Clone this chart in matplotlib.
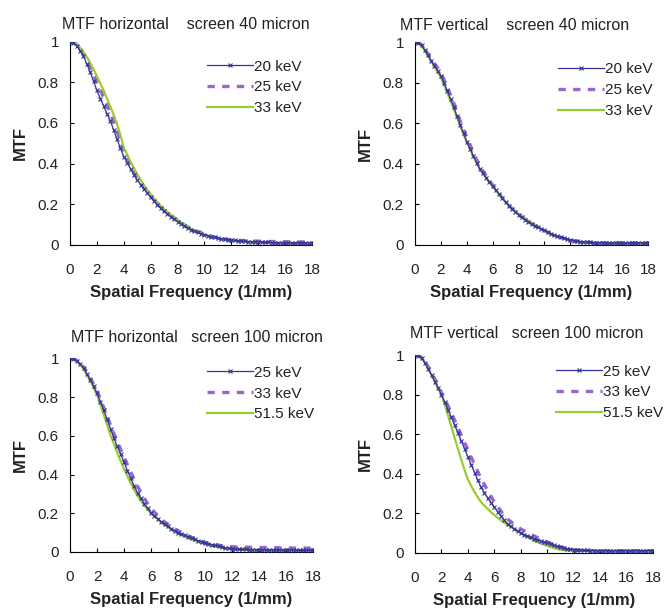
import numpy as np
import matplotlib.pyplot as plt

plt.rcParams['font.family'] = ['Liberation Sans', 'DejaVu Sans']

# spatial frequency grid (1/mm), sampled every 0.25
freq = np.arange(0, 18.001, 0.25)

# MTF horizontal, screen 40 micron
h40_20 = [1.00, 0.995, 0.98, 0.955, 0.93, 0.89, 0.85, 0.805, 0.76, 0.72, 0.685, 0.645,
          0.61, 0.565, 0.52, 0.475, 0.435, 0.405, 0.375, 0.345, 0.32, 0.297, 0.275, 0.255,
          0.235, 0.217, 0.199, 0.182, 0.165, 0.152, 0.139, 0.127, 0.115, 0.105, 0.094, 0.084,
          0.075, 0.068, 0.062, 0.056, 0.05, 0.046, 0.041, 0.037, 0.033, 0.031, 0.028, 0.026,
          0.024, 0.023, 0.021, 0.02, 0.018, 0.017, 0.016, 0.016, 0.015, 0.014, 0.013, 0.013,
          0.012, 0.012, 0.011, 0.011, 0.01, 0.01, 0.01, 0.01, 0.01, 0.01, 0.01, 0.01, 0.01]
h40_25 = [1.00, 0.997, 0.985, 0.965, 0.94, 0.91, 0.875, 0.84, 0.80, 0.765, 0.725, 0.69,
          0.65, 0.605, 0.56, 0.51, 0.465, 0.43, 0.395, 0.362, 0.332, 0.307, 0.283, 0.261,
          0.24, 0.222, 0.204, 0.187, 0.17, 0.157, 0.144, 0.132, 0.12, 0.11, 0.099, 0.089,
          0.08, 0.073, 0.066, 0.06, 0.054, 0.049, 0.044, 0.039, 0.035, 0.032, 0.029, 0.027,
          0.025, 0.024, 0.023, 0.022, 0.021, 0.02, 0.02, 0.019, 0.019, 0.018, 0.018, 0.017,
          0.017, 0.017, 0.016, 0.016, 0.016, 0.016, 0.015, 0.015, 0.015, 0.015, 0.015, 0.015, 0.015]
h40_33 = [1.00, 0.998, 0.99, 0.97, 0.95, 0.925, 0.895, 0.865, 0.83, 0.795, 0.76, 0.72,
          0.68, 0.64, 0.595, 0.54, 0.48, 0.445, 0.41, 0.378, 0.348, 0.32, 0.294, 0.271,
          0.25, 0.23, 0.211, 0.193, 0.176, 0.162, 0.149, 0.137, 0.125, 0.113, 0.101, 0.09,
          0.08, 0.072, 0.064, 0.057, 0.051, 0.046, 0.041, 0.037, 0.033, 0.03, 0.027, 0.025,
          0.022, 0.021, 0.02, 0.018, 0.017, 0.016, 0.015, 0.014, 0.013, 0.013, 0.012, 0.012,
          0.011, 0.011, 0.01, 0.01, 0.009, 0.009, 0.008, 0.008, 0.007, 0.007, 0.006, 0.006, 0.005]

# MTF vertical, screen 40 micron
v40_20 = [1.00, 0.997, 0.985, 0.962, 0.935, 0.91, 0.885, 0.86, 0.835, 0.798, 0.76, 0.72,
          0.68, 0.635, 0.59, 0.55, 0.51, 0.475, 0.44, 0.406, 0.375, 0.353, 0.332, 0.311,
          0.29, 0.27, 0.25, 0.23, 0.21, 0.194, 0.178, 0.163, 0.148, 0.136, 0.125, 0.114,
          0.103, 0.095, 0.087, 0.079, 0.072, 0.064, 0.056, 0.049, 0.042, 0.037, 0.033, 0.029,
          0.025, 0.022, 0.02, 0.017, 0.015, 0.014, 0.013, 0.012, 0.012, 0.011, 0.011, 0.011,
          0.01, 0.01, 0.01, 0.01, 0.01, 0.01, 0.01, 0.01, 0.01, 0.01, 0.01, 0.01, 0.01]
v40_25 = [1.00, 0.998, 0.988, 0.967, 0.942, 0.919, 0.896, 0.873, 0.85, 0.814, 0.777, 0.739,
          0.70, 0.655, 0.61, 0.569, 0.53, 0.494, 0.457, 0.422, 0.39, 0.365, 0.341, 0.318,
          0.295, 0.273, 0.252, 0.232, 0.212, 0.195, 0.18, 0.165, 0.151, 0.139, 0.128, 0.117,
          0.106, 0.097, 0.088, 0.079, 0.07, 0.062, 0.055, 0.048, 0.042, 0.037, 0.032, 0.028,
          0.024, 0.021, 0.019, 0.017, 0.015, 0.014, 0.013, 0.012, 0.012, 0.011, 0.011, 0.01,
          0.01, 0.01, 0.01, 0.01, 0.01, 0.01, 0.01, 0.01, 0.01, 0.01, 0.01, 0.01, 0.01]
v40_33 = [1.00, 0.996, 0.983, 0.96, 0.932, 0.905, 0.878, 0.851, 0.825, 0.787, 0.749, 0.71,
          0.67, 0.627, 0.585, 0.545, 0.507, 0.473, 0.439, 0.406, 0.376, 0.353, 0.331, 0.309,
          0.288, 0.269, 0.25, 0.231, 0.212, 0.197, 0.182, 0.168, 0.155, 0.143, 0.132, 0.12,
          0.109, 0.099, 0.089, 0.08, 0.071, 0.063, 0.055, 0.048, 0.041, 0.036, 0.031, 0.027,
          0.023, 0.02, 0.018, 0.016, 0.014, 0.013, 0.012, 0.011, 0.011, 0.01, 0.01, 0.01,
          0.009, 0.009, 0.009, 0.009, 0.008, 0.008, 0.008, 0.008, 0.008, 0.008, 0.008, 0.008, 0.008]

# MTF horizontal, screen 100 micron
h100_25 = [1.00, 0.997, 0.988, 0.972, 0.95, 0.92, 0.89, 0.857, 0.82, 0.777, 0.732, 0.686,
           0.635, 0.59, 0.545, 0.505, 0.465, 0.42, 0.38, 0.34, 0.305, 0.277, 0.25, 0.225,
           0.203, 0.187, 0.172, 0.157, 0.143, 0.132, 0.121, 0.11, 0.10, 0.093, 0.086, 0.079,
           0.072, 0.065, 0.058, 0.052, 0.046, 0.042, 0.037, 0.034, 0.03, 0.027, 0.023, 0.02,
           0.018, 0.016, 0.015, 0.014, 0.013, 0.012, 0.012, 0.011, 0.011, 0.011, 0.01, 0.01,
           0.01, 0.01, 0.01, 0.009, 0.009, 0.009, 0.009, 0.009, 0.008, 0.008, 0.008, 0.008, 0.008]
h100_33 = [1.00, 0.998, 0.99, 0.975, 0.955, 0.93, 0.90, 0.865, 0.83, 0.79, 0.745, 0.70,
           0.655, 0.612, 0.571, 0.53, 0.49, 0.451, 0.412, 0.375, 0.34, 0.307, 0.277, 0.25,
           0.225, 0.206, 0.188, 0.171, 0.155, 0.143, 0.131, 0.12, 0.11, 0.101, 0.092, 0.084,
           0.076, 0.069, 0.062, 0.056, 0.05, 0.046, 0.042, 0.038, 0.035, 0.032, 0.03, 0.028,
           0.027, 0.026, 0.026, 0.025, 0.025, 0.024, 0.024, 0.024, 0.023, 0.023, 0.023, 0.022,
           0.022, 0.022, 0.022, 0.021, 0.021, 0.021, 0.02, 0.02, 0.02, 0.02, 0.02, 0.02, 0.02]
h100_515 = [1.00, 0.996, 0.985, 0.967, 0.945, 0.915, 0.882, 0.847, 0.81, 0.76, 0.71, 0.655,
            0.603, 0.558, 0.514, 0.47, 0.43, 0.392, 0.355, 0.321, 0.29, 0.265, 0.241, 0.219,
            0.20, 0.184, 0.169, 0.154, 0.14, 0.128, 0.116, 0.105, 0.095, 0.087, 0.079, 0.072,
            0.065, 0.058, 0.052, 0.046, 0.04, 0.036, 0.032, 0.028, 0.025, 0.022, 0.019, 0.017,
            0.015, 0.014, 0.013, 0.012, 0.012, 0.011, 0.011, 0.011, 0.01, 0.01, 0.01, 0.01,
            0.01, 0.01, 0.01, 0.01, 0.01, 0.01, 0.01, 0.01, 0.01, 0.01, 0.01, 0.01, 0.01]

# MTF vertical, screen 100 micron
v100_25 = [1.00, 0.997, 0.985, 0.96, 0.93, 0.898, 0.865, 0.833, 0.80, 0.762, 0.723, 0.684,
           0.645, 0.605, 0.565, 0.525, 0.485, 0.445, 0.405, 0.366, 0.33, 0.303, 0.277, 0.253,
           0.23, 0.207, 0.185, 0.164, 0.145, 0.133, 0.121, 0.11, 0.10, 0.092, 0.085, 0.077,
           0.07, 0.065, 0.06, 0.055, 0.05, 0.043, 0.037, 0.032, 0.027, 0.023, 0.02, 0.017,
           0.015, 0.014, 0.013, 0.012, 0.012, 0.011, 0.011, 0.011, 0.01, 0.01, 0.01, 0.01,
           0.01, 0.01, 0.01, 0.01, 0.01, 0.01, 0.01, 0.01, 0.01, 0.01, 0.01, 0.01, 0.01]
v100_33 = [1.00, 0.998, 0.988, 0.966, 0.94, 0.91, 0.878, 0.845, 0.81, 0.776, 0.742, 0.707,
           0.67, 0.632, 0.594, 0.557, 0.52, 0.483, 0.446, 0.41, 0.375, 0.344, 0.313, 0.284,
           0.257, 0.233, 0.21, 0.189, 0.17, 0.157, 0.144, 0.132, 0.12, 0.111, 0.102, 0.093,
           0.085, 0.077, 0.069, 0.062, 0.055, 0.048, 0.041, 0.035, 0.03, 0.025, 0.021, 0.018,
           0.015, 0.014, 0.013, 0.012, 0.012, 0.011, 0.011, 0.01, 0.01, 0.01, 0.01, 0.01,
           0.01, 0.01, 0.01, 0.01, 0.01, 0.01, 0.01, 0.01, 0.01, 0.01, 0.01, 0.01, 0.01]
v100_515 = [1.00, 0.997, 0.985, 0.96, 0.93, 0.898, 0.865, 0.833, 0.80, 0.748, 0.693, 0.637,
            0.58, 0.525, 0.47, 0.418, 0.37, 0.338, 0.307, 0.28, 0.255, 0.238, 0.221, 0.205,
            0.19, 0.177, 0.164, 0.152, 0.14, 0.13, 0.12, 0.11, 0.10, 0.09, 0.08, 0.07,
            0.06, 0.053, 0.047, 0.041, 0.035, 0.03, 0.024, 0.019, 0.015, 0.013, 0.012, 0.011,
            0.01, 0.01, 0.01, 0.01, 0.01, 0.01, 0.01, 0.01, 0.01, 0.01, 0.01, 0.009, 0.009,
            0.009, 0.009, 0.009, 0.009, 0.009, 0.009, 0.009, 0.009, 0.009, 0.009, 0.009, 0.009]

# title, legend labels, series, axes rect, title x, legend anchor, title pad
panels = [
    ('MTF horizontal    screen 40 micron', ['20 keV', '25 keV', '33 keV'],
     [h40_20, h40_25, h40_33], [0.1048, 0.5984, 0.3623, 0.3333], 0.479, (0.566, 0.912), 9),
    ('MTF vertical    screen 40 micron', ['20 keV', '25 keV', '33 keV'],
     [v40_20, v40_25, v40_33], [0.6213, 0.5984, 0.3488, 0.3323], 0.429, (0.614, 0.902), 9),
    ('MTF horizontal   screen 100 micron', ['25 keV', '33 keV', '51.5 keV'],
     [h100_25, h100_33, h100_515], [0.1048, 0.0951, 0.3638, 0.3175], 0.523, (0.564, 0.962), 12),
    ('MTF vertical   screen 100 micron', ['25 keV', '33 keV', '51.5 keV'],
     [v100_25, v100_33, v100_515], [0.6213, 0.0939, 0.3563, 0.3241], 0.468, (0.592, 0.952), 12),
]

blue = '#333399'
purple = '#9966cc'
green = '#99cc33'
txt = '#222222'

fig = plt.figure(figsize=(6.68, 6.10), dpi=100)
for title, labels, series, rect, tx, lpos, tpad in panels:
    ax = fig.add_axes(rect)
    ax.plot(freq, series[0], color=blue, lw=0.9, marker='x', ms=3.5, mew=0.8,
            label=labels[0], zorder=3)
    ax.plot(freq, series[1], color=purple, lw=2.4, dashes=(2.2, 2.2),
            label=labels[1], zorder=2)
    ax.plot(freq, series[2], color=green, lw=1.6, label=labels[2], zorder=2.5)
    ax.set_xlim(0, 18)
    ax.set_ylim(0, 1)
    ax.set_xticks(np.arange(0, 19, 2))
    ax.set_yticks([0, 0.2, 0.4, 0.6, 0.8, 1])
    ax.set_yticklabels(['0', '0.2', '0.4', '0.6', '0.8', '1'])
    ax.tick_params(direction='in', length=3, width=0.8, labelsize=11, labelcolor=txt)
    ax.tick_params(axis='x', pad=13)
    ax.tick_params(axis='y', pad=8)
    ax.spines[['right', 'top']].set_visible(False)
    ax.set_xlabel('Spatial Frequency (1/mm)', fontsize=12, fontweight='bold',
                  color=txt, labelpad=6)
    ax.set_ylabel('MTF', fontsize=12, fontweight='bold', color=txt, labelpad=7)
    ax.set_title(title, fontsize=11.5, pad=tpad, x=tx, color=txt)
    ax.legend(loc='upper left', bbox_to_anchor=lpos, frameon=False,
              fontsize=11, handlelength=3.0, handletextpad=0.1, labelspacing=0.45,
              borderaxespad=0, borderpad=0, labelcolor=txt)

fig.savefig('out.png', dpi=100)
